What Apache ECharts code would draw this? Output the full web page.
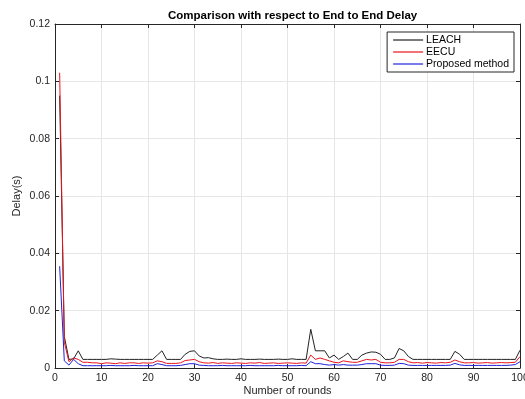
<!DOCTYPE html>
<html><head><meta charset="utf-8">
<script src="https://cdn.jsdelivr.net/npm/echarts@6/dist/echarts.min.js"></script>
<style>html,body{margin:0;padding:0;background:#fff}#c{width:525px;height:399px}</style>
</head><body><div id="c"></div>
<script>
const titleText = "Comparison with respect to End to End Delay";
const xLabel = "Number of rounds";
const yLabel = "Delay(s)";
const seriesNames = ["LEACH", "EECU", "Proposed method"];
const rounds = Array.from({length: 100}, (_, i) => i + 1);
const leach = [
 0.095,0.011,0.003,0.0032,0.006,0.003,0.003,0.003,0.003,0.003,
 0.003,0.0032,0.0031,0.003,0.003,0.003,0.003,0.003,0.003,0.003,
 0.003,0.0045,0.006,0.003,0.003,0.003,0.003,0.0048,0.0058,0.006,
 0.0042,0.0035,0.0036,0.0032,0.003,0.003,0.0031,0.003,0.003,0.0032,
 0.003,0.003,0.003,0.0031,0.003,0.003,0.003,0.0031,0.003,0.003,
 0.0032,0.003,0.003,0.003,0.0135,0.006,0.006,0.006,0.0035,0.0045,
 0.003,0.004,0.0052,0.003,0.003,0.0045,0.0052,0.0056,0.0055,0.0048,
 0.003,0.003,0.0035,0.0068,0.006,0.004,0.003,0.003,0.003,0.003,
 0.003,0.003,0.003,0.003,0.003,0.0058,0.0048,0.003,0.003,0.003,
 0.003,0.003,0.003,0.003,0.003,0.003,0.003,0.003,0.003,0.0062
];
const eecu = [
 0.103,0.009,0.0022,0.0035,0.003,0.002,0.002,0.0018,0.0018,0.0015,
 0.0018,0.0017,0.0015,0.0018,0.0016,0.0018,0.0018,0.0016,0.0018,0.0017,
 0.0018,0.0025,0.0022,0.0016,0.0016,0.0016,0.0018,0.0026,0.0028,0.003,
 0.0022,0.0018,0.0017,0.0019,0.0016,0.0018,0.0017,0.0016,0.0018,0.0017,
 0.0016,0.0018,0.0017,0.0019,0.0016,0.0017,0.0018,0.0016,0.0017,0.0018,
 0.0017,0.0016,0.0018,0.0017,0.0045,0.003,0.0035,0.003,0.0025,0.002,
 0.0018,0.0025,0.0022,0.002,0.002,0.0025,0.003,0.0028,0.003,0.002,
 0.0018,0.0018,0.002,0.003,0.003,0.0022,0.0018,0.0019,0.0017,0.0019,
 0.0018,0.0017,0.0019,0.0018,0.002,0.0028,0.0022,0.0018,0.0018,0.0019,
 0.0017,0.0018,0.0019,0.0017,0.0018,0.0019,0.0018,0.0019,0.002,0.004
];
const proposed = [
 0.0355,0.0025,0.001,0.003,0.0015,0.0008,0.0008,0.0008,0.0008,0.0008,
 0.0008,0.0009,0.0008,0.0008,0.0008,0.0008,0.0009,0.0008,0.0008,0.0008,
 0.0008,0.0015,0.0012,0.0008,0.0008,0.0008,0.0009,0.0012,0.0015,0.0015,
 0.001,0.0009,0.0008,0.0008,0.0008,0.0009,0.0008,0.0008,0.0008,0.0008,
 0.0008,0.0009,0.0008,0.0008,0.0008,0.0008,0.0008,0.0009,0.0008,0.0008,
 0.0008,0.0008,0.0009,0.0008,0.0022,0.0015,0.0015,0.0012,0.001,0.0012,
 0.001,0.0012,0.001,0.001,0.001,0.0012,0.0015,0.0015,0.0015,0.001,
 0.0009,0.0009,0.001,0.0016,0.0015,0.001,0.0009,0.0009,0.0009,0.0009,
 0.0009,0.0009,0.0009,0.0009,0.001,0.0016,0.0011,0.0009,0.0009,0.0009,
 0.0009,0.0009,0.0009,0.0009,0.0009,0.0009,0.0009,0.001,0.0012,0.0022
];
const colors = ["#222222", "#e8141c", "#2020d8"];

const F = "Liberation Sans, Arial, sans-serif";
const chart = echarts.init(document.getElementById('c'), null, {renderer: 'canvas'});
const pairs = arr => rounds.map((r, i) => [r, arr[i]]);
const axisCommon = {
  axisLine: {show: true, onZero: false, lineStyle: {color: '#262626', width: 1}},
  axisTick: {show: true, inside: true, length: 4, lineStyle: {color: '#262626'}},
};
chart.setOption({
  animation: false,
  backgroundColor: '#ffffff',
  title: {text: titleText, left: 163, top: 5,
    textStyle: {fontFamily: F, fontSize: 11.5, fontWeight: 'bold', color: '#000'}},
  grid: {left: 55, right: 5, top: 24, bottom: 31, containLabel: false, outerBoundsMode: 'none'},
  legend: {
    data: seriesNames.map((n, i) => ({name: n, itemStyle: {color: colors[i], borderWidth: 0}})),
    orient: 'vertical', right: 11, top: 32,
    backgroundColor: '#fff', borderColor: '#262626', borderWidth: 1,
    padding: [2, 5, 2, 6], itemGap: 0, itemWidth: 30, itemHeight: 1.2,
    icon: 'rect',
    textStyle: {fontFamily: F, fontSize: 10.5, color: '#000', padding: [0, 0, 0, -2], lineHeight: 12}
  },
  xAxis: [
    Object.assign({type: 'value', min: 0, max: 100, interval: 10, position: 'bottom',
      name: xLabel, nameLocation: 'middle', nameGap: 17, nameMoveOverlap: false,
      nameTextStyle: {fontFamily: F, fontSize: 11, color: '#262626', verticalAlign: 'top'},
      axisLabel: {fontFamily: F, fontSize: 10.5, color: '#262626', margin: 5},
      splitLine: {show: true, lineStyle: {color: '#e6e6e6', width: 1}}}, axisCommon),
    Object.assign({type: 'value', min: 0, max: 100, interval: 10, position: 'top',
      axisLabel: {show: false}, splitLine: {show: false}}, axisCommon)
  ],
  yAxis: [
    Object.assign({type: 'value', min: 0, max: 0.12, interval: 0.02, position: 'left',
      name: yLabel, nameLocation: 'middle', nameGap: 33, nameMoveOverlap: false,
      nameTextStyle: {fontFamily: F, fontSize: 11, color: '#262626'},
      axisLabel: {fontFamily: F, fontSize: 10.5, color: '#262626', margin: 5,
        formatter: v => String(+v.toFixed(2))},
      splitLine: {show: true, lineStyle: {color: '#e6e6e6', width: 1}}}, axisCommon),
    Object.assign({type: 'value', min: 0, max: 0.12, interval: 0.02, position: 'right',
      axisLabel: {show: false}, splitLine: {show: false}}, axisCommon)
  ],
  series: [
    {name: seriesNames[0], type: 'line', data: pairs(leach), symbol: 'none',
      lineStyle: {color: colors[0], width: 1}, itemStyle: {color: colors[0]}, z: 3},
    {name: seriesNames[1], type: 'line', data: pairs(eecu), symbol: 'none',
      lineStyle: {color: colors[1], width: 1}, itemStyle: {color: colors[1]}, z: 4},
    {name: seriesNames[2], type: 'line', data: pairs(proposed), symbol: 'none',
      lineStyle: {color: colors[2], width: 1}, itemStyle: {color: colors[2]}, z: 5}
  ]
});
</script></body></html>
